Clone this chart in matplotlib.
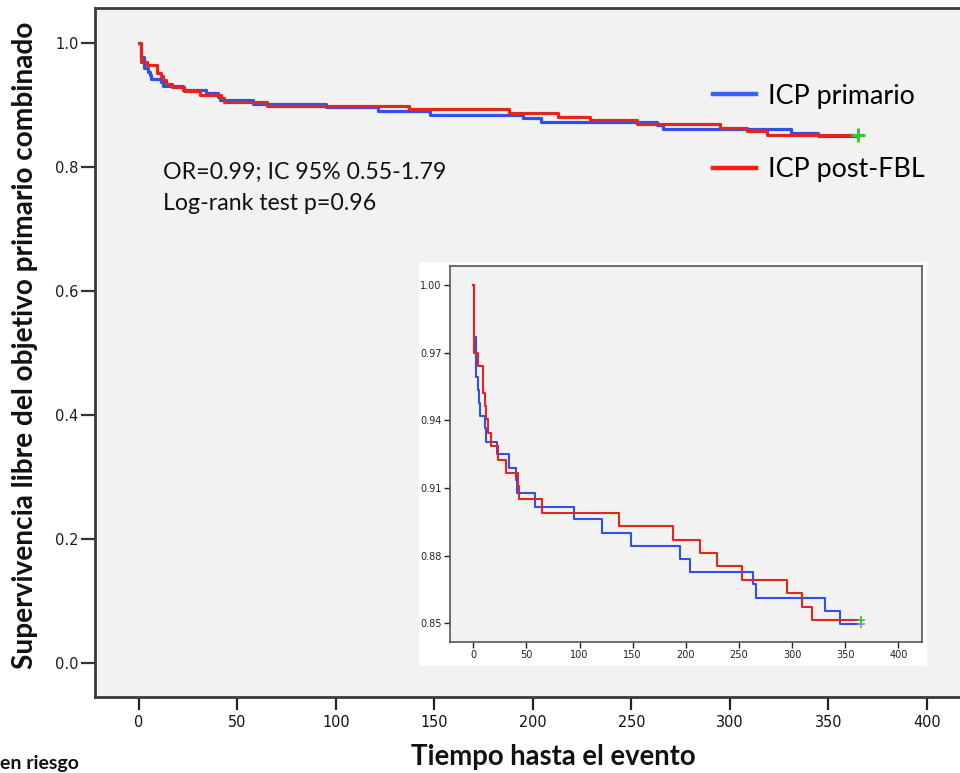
import matplotlib
matplotlib.use("Agg")
import matplotlib.pyplot as plt
from matplotlib.lines import Line2D

# ---- data ----
times_primario = [0, 1, 2.5, 4.4, 5.6, 6.3, 11, 12, 22.6, 33.9, 40.2, 41.4, 58, 95,
                  121.4, 148, 195, 204, 263, 266, 331, 345, 365]
surv_primario = [1.0, 0.9768, 0.9594, 0.9534, 0.9478, 0.9421, 0.9365, 0.9305, 0.9249,
                 0.9190, 0.9135, 0.9076, 0.9017, 0.8961, 0.8902, 0.8844, 0.8787, 0.8729,
                 0.8673, 0.8614, 0.8556, 0.8497, 0.8497]
times_postfbl = [0, 1, 4, 9, 11, 12, 14, 17, 23, 31, 41.7, 43, 65, 137, 188, 213, 229,
                 253, 295, 309, 319, 365]
surv_postfbl = [1.0, 0.9698, 0.9641, 0.9521, 0.9464, 0.9405, 0.9345, 0.9287, 0.9226,
                0.9168, 0.9108, 0.9050, 0.8990, 0.8930, 0.8871, 0.8813, 0.8753, 0.8693,
                0.8634, 0.8574, 0.8515, 0.8515]
censor_time = 365
main_yticks = [0.0, 0.2, 0.4, 0.6, 0.8, 1.0]
main_ytick_labels = ["0.0", "0.2", "0.4", "0.6", "0.8", "1.0"]
xticks = [0, 50, 100, 150, 200, 250, 300, 350, 400]
inset_yticks = [0.85, 0.88, 0.91, 0.94, 0.97, 1.00]
inset_ytick_labels = ["0.85", "0.88", "0.91", "0.94", "0.97", "1.00"]
series_labels = ["ICP primario", "ICP post-FBL"]
annot_lines = ["OR=0.99; IC 95% 0.55-1.79", "Log-rank test p=0.96"]

BLUE = "#2f4ff2"
RED = "#e2261b"
GREEN = "#3cc43c"
BG = "#f2f2f2"

W, H = 960, 773
fig = plt.figure(figsize=(W / 100, H / 100), dpi=100)
fig.patch.set_facecolor("white")


def px_rect(x0, y0, x1, y1):
    return [x0 / W, 1 - y1 / H, (x1 - x0) / W, (y1 - y0) / H]


# ---- main axes ----
ax = fig.add_axes(px_rect(95, 8, 970, 697))
ax.set_facecolor(BG)
ax.step(times_primario, surv_primario, where="post", color=BLUE, lw=2.3, zorder=3)
ax.step(times_postfbl, surv_postfbl, where="post", color=RED, lw=2.3, zorder=4)
ax.plot([censor_time], [surv_postfbl[-1]], marker="+", color=GREEN, ms=10, mew=2.2,
        zorder=5, linestyle="none")
ax.set_xlim(-22.3, 422)
ax.set_ylim(-0.0548, 1.0565)
ax.set_xticks(xticks)
ax.set_xticklabels([str(t) for t in xticks], fontsize=11.5, fontstretch="condensed",
                   color="#111111")
ax.set_yticks(main_yticks)
ax.set_yticklabels(main_ytick_labels, fontsize=10.5, color="#1a1a2a")
ax.tick_params(axis="y", direction="out", length=10, width=1.6, color="#333333", pad=2)
ax.tick_params(axis="x", direction="out", length=9, width=1.6, color="#222222", pad=4)
for s in ax.spines.values():
    s.set_linewidth(2.0)
    s.set_color("#3a3a3a")

leg_handles = [Line2D([], [], color="#3366ff", lw=3.2),
               Line2D([], [], color="#ff1a1a", lw=3.2)]
ax.legend(leg_handles, series_labels, loc="center left",
          bbox_to_anchor=(713 / W, 1 - 133 / H), bbox_transform=fig.transFigure,
          frameon=False, borderpad=0, borderaxespad=0, handlelength=1.6,
          handletextpad=0.45, labelspacing=1.8,
          prop={"family": "Lato", "size": 19.4})

fig.text(163 / W, 1 - 172 / H, annot_lines[0], family="Lato", fontsize=16.7,
         va="center", ha="left", color="#111111")
fig.text(163 / W, 1 - 204 / H, annot_lines[1], family="Lato", fontsize=16.7,
         va="center", ha="left", color="#111111")

fig.text(25 / W, 1 - 345 / H, "Supervivencia libre del objetivo primario combinado",
         rotation=90, family="Lato", fontweight="bold", fontsize=20.2,
         ha="center", va="center", color="#111111")
fig.text(553 / W, 1 - 757 / H, "Tiempo hasta el evento", family="Lato",
         fontweight="bold", fontsize=19.8, ha="center", va="center", color="#111111")
fig.text(0 / W, 1 - 772 / H, "en riesgo", family="Lato", fontweight="bold",
         fontsize=14, ha="left", va="bottom", color="#111111")

# ---- inset ----
bg = fig.add_axes(px_rect(419, 262, 927, 666))
bg.set_facecolor("white")
bg.set_xticks([])
bg.set_yticks([])
for s in bg.spines.values():
    s.set_visible(False)

ins = fig.add_axes(px_rect(450, 266, 922, 642))
ins.set_facecolor(BG)
ins.step(times_primario, surv_primario, where="post", color=BLUE, lw=1.5, zorder=3)
ins.step(times_postfbl, surv_postfbl, where="post", color=RED, lw=1.5, zorder=4)
ins.plot([censor_time], [surv_primario[-1]], marker="+", color="#7d8fd0", ms=6, mew=1.2,
         zorder=5, linestyle="none")
ins.plot([censor_time], [surv_postfbl[-1]], marker="+", color=GREEN, ms=6, mew=1.2,
         zorder=6, linestyle="none")
ins.set_xlim(-21.9, 422.3)
ins.set_ylim(0.8417, 1.0084)
ins.set_xticks(xticks)
ins.set_xticklabels([str(t) for t in xticks], fontsize=7, color="#222222")
ins.set_yticks(inset_yticks)
ins.set_yticklabels(inset_ytick_labels, fontsize=7, color="#222233")
ins.tick_params(direction="out", length=4, width=1.0, color="#222222", pad=2)
for s in ins.spines.values():
    s.set_linewidth(1.2)
    s.set_color("#555555")

fig.savefig("out.png", dpi=100, facecolor="white")
